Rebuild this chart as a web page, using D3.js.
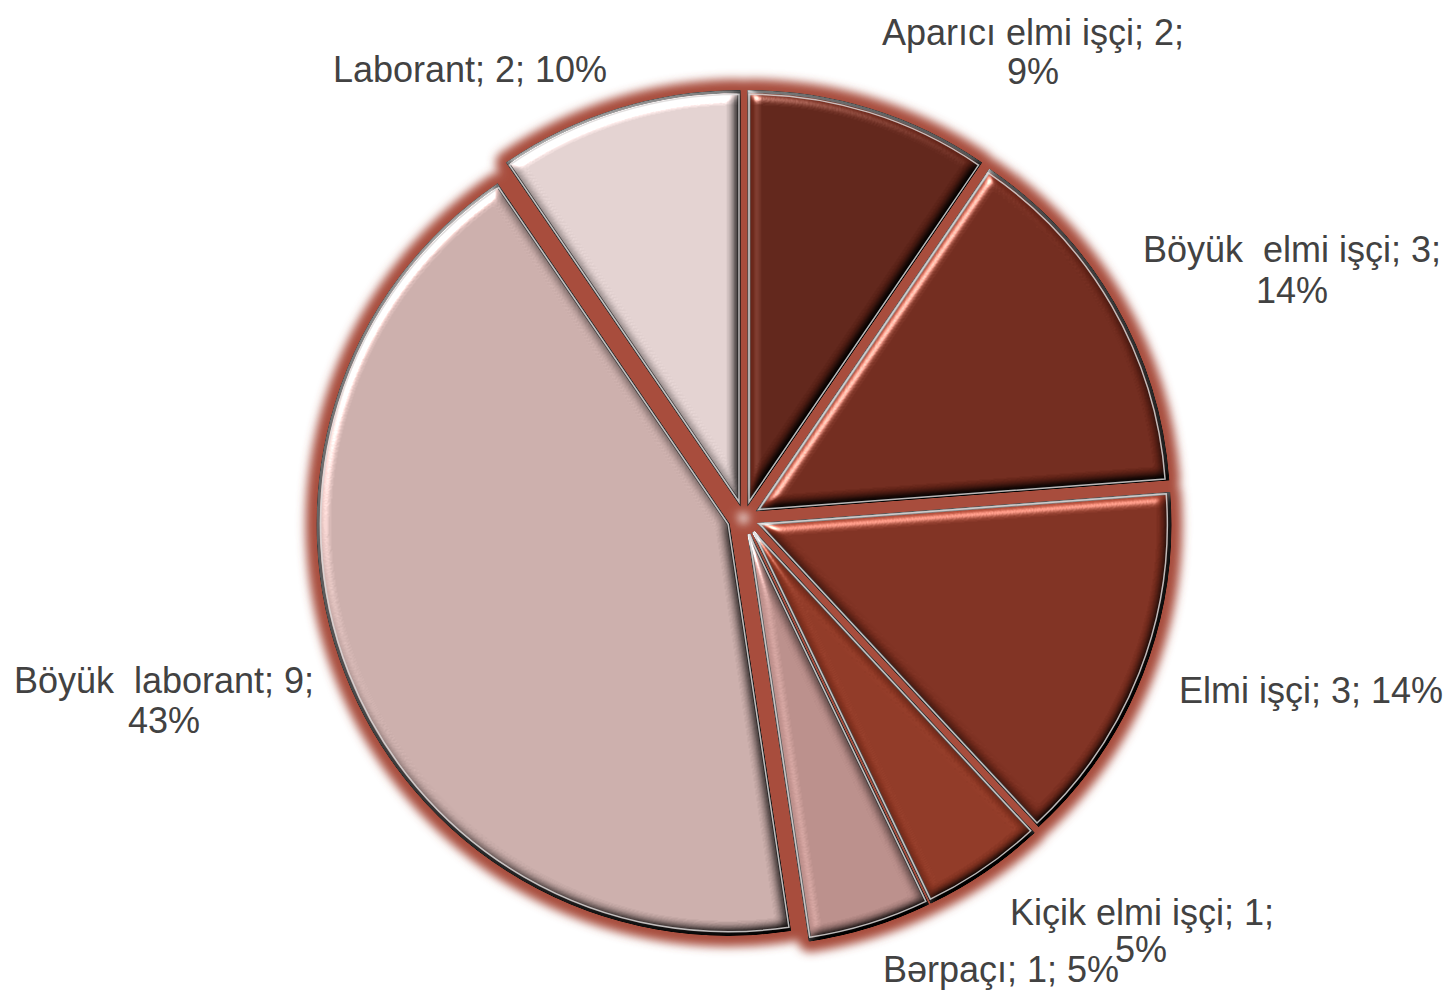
<!DOCTYPE html>
<html>
<head>
    <script src="https://d3js.org/d3.v7.min.js"></script>
    <style>
        body { margin: 0; background: #fff; }
        svg { display: block; }
        .lbl { font-family: "Liberation Sans", Arial, sans-serif; font-size: 36px; fill: #424242; white-space: pre; }
    </style>
</head>
<body>
<div id="container"></div>
<script>
    // data
    var categories = ["Aparıcı elmi işçi", "Böyük  elmi işçi", "Elmi işçi", "Kiçik elmi işçi",
                      "Bərpaçı", "Böyük  laborant", "Laborant"];
    var counts = [2, 3, 3, 1, 1, 9, 2];
    var percents = ["9%", "14%", "14%", "5%", "5%", "43%", "10%"];
    var colors = ["#5b2015", "#6c2619", "#7a2c1d", "#8a3421", "#b48985", "#c5a8a5", "#dccbca"];

    // label placement: [x, y] of line 1, and of line 2 when the percent wraps
    var labelAt = [
        [[1033, 45], [1033, 84]],
        [[1292, 262], [1292, 303]],
        [[1311, 703]],
        [[1142, 925], [1141, 962]],
        [[1001, 982]],
        [[164, 693], [164, 733]],
        [[470, 82]]
    ];

    var W = 1453, H = 992;
    var cx = 744, cy = 518, radius = 410, explode = 17;
    var glow = "#a84e3e";

    var svg = d3.select("#container").append("svg")
        .attr("width", W)
        .attr("height", H);

    var defs = svg.append("defs");

    // soft red halo behind the slices
    var fGlow = defs.append("filter").attr("id", "glow")
        .attr("x", "-20%").attr("y", "-20%").attr("width", "140%").attr("height", "140%");
    fGlow.append("feGaussianBlur").attr("stdDeviation", 5);

    // bevel / emboss look on each slice
    var fBevel = defs.append("filter").attr("id", "bevel")
        .attr("color-interpolation-filters", "sRGB")
        .attr("x", "-5%").attr("y", "-5%").attr("width", "110%").attr("height", "110%");
    fBevel.append("feGaussianBlur").attr("in", "SourceAlpha").attr("stdDeviation", 6).attr("result", "b");
    fBevel.append("feDiffuseLighting").attr("in", "b").attr("surfaceScale", 8)
        .attr("diffuseConstant", 1).attr("lighting-color", "#fff").attr("result", "d")
        .append("feDistantLight").attr("azimuth", 235).attr("elevation", 45);
    fBevel.append("feComposite").attr("in", "SourceGraphic").attr("in2", "d")
        .attr("operator", "arithmetic").attr("k1", 1.414).attr("result", "shaded");
    fBevel.append("feSpecularLighting").attr("in", "b").attr("surfaceScale", 8)
        .attr("specularConstant", 1.1).attr("specularExponent", 28)
        .attr("lighting-color", "#fff").attr("result", "s")
        .append("feDistantLight").attr("azimuth", 235).attr("elevation", 35);
    fBevel.append("feComposite").attr("in", "s").attr("in2", "SourceAlpha")
        .attr("operator", "in").attr("result", "s2");
    fBevel.append("feComposite").attr("in", "shaded").attr("in2", "s2")
        .attr("operator", "arithmetic").attr("k2", 1).attr("k3", 0.8);

    var pie = d3.pie().sort(null).value(function(d) { return d; });
    var arcs = pie(counts);

    var arc = d3.arc().innerRadius(0).outerRadius(radius);

    function shift(d) {
        var a = (d.startAngle + d.endAngle) / 2;
        return "translate(" + (cx + explode * Math.sin(a)) + "," + (cy - explode * Math.cos(a)) + ")";
    }

    // halo layer
    svg.append("g").attr("filter", "url(#glow)")
        .selectAll("path")
        .data(arcs)
        .enter().append("path")
        .attr("transform", shift)
        .attr("d", arc)
        .attr("fill", glow)
        .attr("stroke", glow)
        .attr("stroke-width", 25)
        .attr("stroke-linejoin", "round");

    // slices
    var slices = svg.append("g")
        .selectAll("g")
        .data(arcs)
        .enter().append("g")
        .attr("transform", shift);

    slices.append("path")
        .attr("d", arc)
        .attr("fill", function(d, i) { return colors[i]; })
        .attr("stroke", "#5a5a5a")
        .attr("stroke-width", 3)
        .attr("filter", "url(#bevel)");

    slices.append("path")
        .attr("d", d3.arc().innerRadius(0).outerRadius(radius - 2.5))
        .attr("fill", "none")
        .attr("stroke", "#dcd8d8")
        .attr("stroke-opacity", 0.85)
        .attr("stroke-width", 1.5);

    // data labels
    var labels = svg.append("g");
    categories.forEach(function(name, i) {
        var pos = labelAt[i];
        var head = name + "; " + counts[i] + ";";
        if (pos.length > 1) {
            labels.append("text").attr("class", "lbl")
                .attr("x", pos[0][0]).attr("y", pos[0][1])
                .attr("text-anchor", "middle").text(head);
            labels.append("text").attr("class", "lbl")
                .attr("x", pos[1][0]).attr("y", pos[1][1])
                .attr("text-anchor", "middle").text(percents[i]);
        } else {
            labels.append("text").attr("class", "lbl")
                .attr("x", pos[0][0]).attr("y", pos[0][1])
                .attr("text-anchor", "middle").text(head + " " + percents[i]);
        }
    });
</script>
</body>
</html>
